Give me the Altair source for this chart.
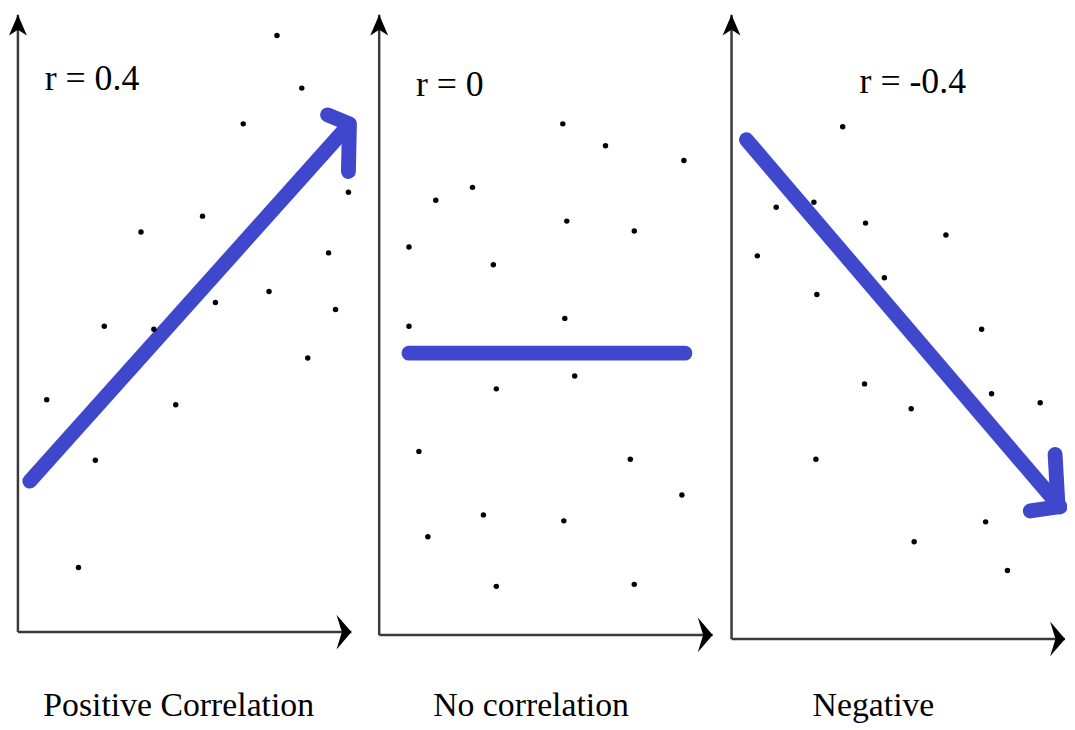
import altair as alt
import pandas as pd

# ---- data (positions, in image units) ----
pos_x = [47, 96, 79, 177, 105, 155, 142, 204, 217, 245, 271, 279, 304, 310, 331, 338, 351]
pos_y = [400, 461, 569, 405, 326, 329, 231, 215, 302, 122, 291, 33, 86, 358, 252, 309, 191]

none_x = [567, 610, 689, 439, 476, 571, 639, 412, 497, 412, 569, 500, 579, 422, 635, 687, 487, 568, 431, 500, 639]
none_y = [122, 144, 159, 199, 186, 220, 230, 246, 264, 326, 318, 389, 376, 452, 460, 496, 516, 522, 538, 588, 586]

neg_x = [849, 782, 820, 872, 953, 763, 891, 823, 989, 871, 918, 999, 1048, 822, 993, 921, 1015]
neg_y = [125, 206, 201, 222, 234, 255, 277, 294, 329, 384, 409, 394, 403, 460, 523, 543, 572]

# panel frames
axis_x = [18, 382, 737]          # vertical axis position per panel
axis_top = [12, 12, 12]
axis_bottom = [634, 637, 641]    # horizontal axis position per panel
axis_right = [354, 718, 1073]

# blue trend strokes: (segment id, x, y)
trend_seg = ["p1", "p1", "p1h", "p1h", "p1h", "n0", "n0", "m1", "m1", "m1h", "m1h", "m1h"]
trend_x = [30, 348, 330, 352, 351, 412, 690, 752, 1068, 1063, 1066, 1038]
trend_y = [482, 127, 113, 122, 170, 353, 353, 138, 508, 455, 508, 512]

r_text = ["r =  0.4", "r = 0", "r = -0.4"]
r_x = [45, 419, 866]
r_y = [88, 94, 91]

title_text = ["Positive Correlation", "No correlation", "Negative"]
title_x = [180, 535, 880]
title_y = [719, 719, 719]

BLUE = "#3F48CC"
FONT = "Liberation Serif"

# ---- tables ----
dots = pd.DataFrame({"x": pos_x + none_x + neg_x, "y": pos_y + none_y + neg_y})
vaxis = pd.DataFrame({"x": axis_x, "y": axis_top, "y2": axis_bottom})
haxis = pd.DataFrame({"x": axis_x, "x2": axis_right, "y": axis_bottom})
up_heads = pd.DataFrame({"x": axis_x, "y": [t + 10.5 for t in axis_top]})
right_heads = pd.DataFrame({"x": [r - 7.5 for r in axis_right], "y": axis_bottom})
trend = pd.DataFrame({"seg": trend_seg, "x": trend_x, "y": trend_y, "o": list(range(len(trend_x)))})
rlab = pd.DataFrame({"t": r_text, "x": r_x, "y": r_y})
tlab = pd.DataFrame({"t": title_text, "x": title_x, "y": title_y})

X = lambda f="x": alt.X(f"{f}:Q", scale=alt.Scale(domain=[8, 1075], nice=False, zero=False), axis=None)
Y = lambda f="y": alt.Y(f"{f}:Q", scale=alt.Scale(domain=[8, 730], nice=False, zero=False, reverse=True), axis=None)

v_rules = alt.Chart(vaxis).mark_rule(color="#3a3a3a", strokeWidth=2.5).encode(
    x=X(), y=Y(), y2="y2:Q")
h_rules = alt.Chart(haxis).mark_rule(color="#3a3a3a", strokeWidth=2.5).encode(
    x=X(), x2="x2:Q", y=Y())

up = alt.Chart(up_heads).mark_point(
    shape="M0,-1L0.86,1L0,0.45L-0.86,1Z", size=441, filled=True, color="black", opacity=1
).encode(x=X(), y=Y())
right = alt.Chart(right_heads).mark_point(
    shape="M0.43,0L-0.43,-1L-0.12,0L-0.43,1Z", size=1225, filled=True, color="black", opacity=1
).encode(x=X(), y=Y())

lines = alt.Chart(trend).mark_line(
    color=BLUE, strokeWidth=15, strokeCap="round", strokeJoin="round"
).encode(x=X(), y=Y(), detail="seg:N", order="o:Q")

pts = alt.Chart(dots).mark_point(
    shape="circle", size=30, filled=True, color="black", opacity=1
).encode(x=X(), y=Y())

rtext = alt.Chart(rlab).mark_text(
    font=FONT, fontSize=36, align="left", baseline="alphabetic", color="black"
).encode(x=X(), y=Y(), text="t:N")

ttext = alt.Chart(tlab).mark_text(
    font=FONT, fontSize=34, align="center", baseline="alphabetic", color="black"
).encode(x=X(), y=Y(), text="t:N")

chart = alt.layer(v_rules, h_rules, up, right, lines, pts, rtext, ttext).properties(
    width=1067, height=722, padding=0,
    autosize=alt.AutoSizeParams(type="none"),
    background="white",
).configure_view(stroke=None)

chart.save("out.html", embed_options={"renderer": "svg", "actions": False})
